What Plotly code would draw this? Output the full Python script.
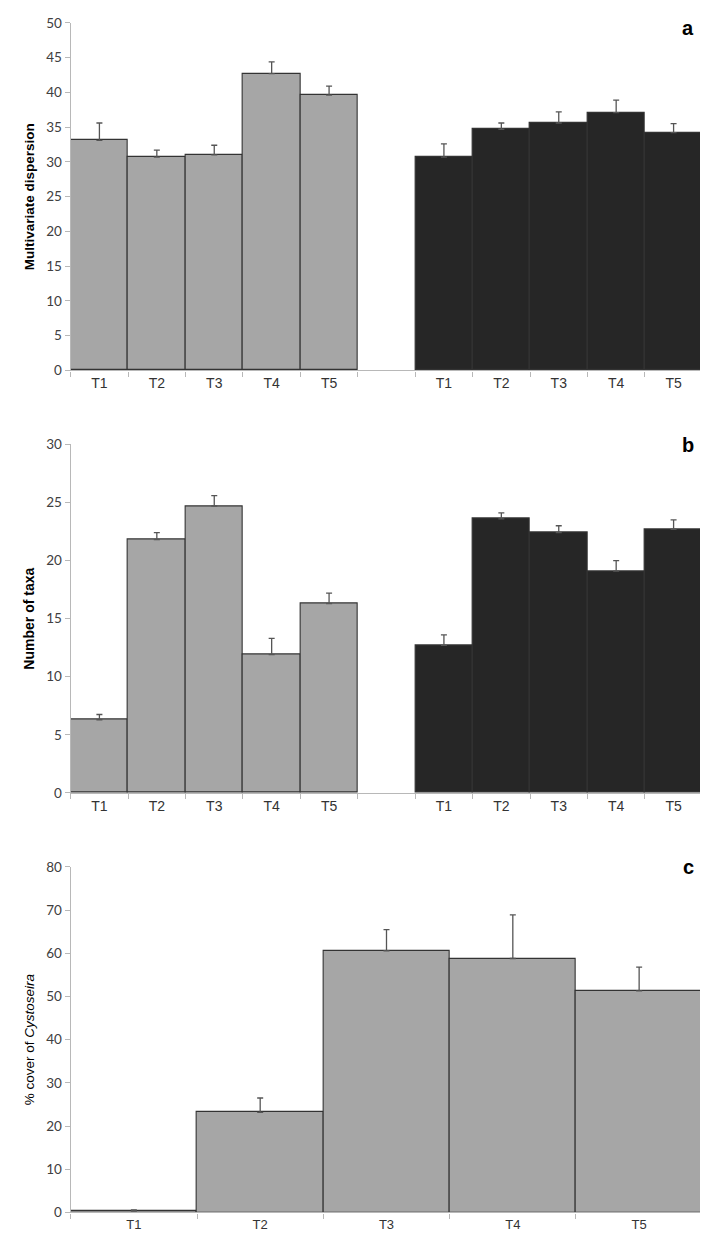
import plotly.graph_objects as go

# ---- data ----
cats = ["T1", "T2", "T3", "T4", "T5"]

a_gray = [33.1, 30.7, 31.0, 42.7, 39.6]
a_gray_se = [2.5, 1.0, 1.4, 1.7, 1.3]
a_black = [30.7, 34.7, 35.6, 37.1, 34.2]
a_black_se = [1.9, 0.9, 1.6, 1.8, 1.3]

b_gray = [6.3, 21.8, 24.7, 11.9, 16.3]
b_gray_se = [0.45, 0.6, 0.9, 1.4, 0.9]
b_black = [12.7, 23.6, 22.4, 19.1, 22.7]
b_black_se = [0.9, 0.5, 0.6, 0.9, 0.8]

c_vals = [0.3, 23.2, 60.6, 58.8, 51.3]
c_se = [0.3, 3.3, 4.9, 10.1, 5.5]

GRAY = "#a6a6a6"
BLACK = "#262626"
EDGE = "#333333"
ERRC = "#555555"
AXC = "#b8b8b8"

W, H = 708, 1249

gray_keys = cats
gap_key = "  "
black_keys = [c + " " for c in cats]
ab_order = gray_keys + [gap_key] + black_keys
ab_text = cats + [""] + cats

fig = go.Figure()


def err(se):
    return dict(type="data", symmetric=False, array=se, arrayminus=[0] * len(se),
                color=ERRC, thickness=1.3, width=3)


def bar(x, y, se, color, xa, ya):
    return go.Bar(x=x, y=y, error_y=err(se), marker=dict(color=color, line=dict(color=EDGE, width=1.1)),
                  width=1, xaxis=xa, yaxis=ya, showlegend=False)


fig.add_trace(bar(gray_keys, a_gray, a_gray_se, GRAY, "x", "y"))
fig.add_trace(bar(black_keys, a_black, a_black_se, BLACK, "x", "y"))
fig.add_trace(bar(gray_keys, b_gray, b_gray_se, GRAY, "x2", "y2"))
fig.add_trace(bar(black_keys, b_black, b_black_se, BLACK, "x2", "y2"))
fig.add_trace(bar(cats, c_vals, c_se, GRAY, "x3", "y3"))


def py(px):
    return (H - px) / H


x0, x1 = 62.7 / W, 694.3 / W

tickfont_y = dict(family="Lato, Open Sans, sans-serif", size=13.5, color="#404040")
AR = "Liberation Sans, Arial, sans-serif"


def xaxis(anchor, order, text, font):
    return dict(domain=[x0, x1], anchor=anchor, type="category", categoryorder="array",
                categoryarray=order, tickmode="array", tickvals=order, ticktext=text,
                tickson="boundaries", ticks="outside", ticklen=5, tickcolor=AXC,
                showline=True, linecolor=AXC, linewidth=1.2, showgrid=False, zeroline=False,
                range=[-0.5, len(order) - 0.5], tickfont=font, fixedrange=True)


def yaxis(anchor, dom, rng, dt, title, tsize, bold=True):
    return dict(domain=dom, anchor=anchor, range=rng, dtick=dt, tick0=0, ticks="outside", ticklen=5,
                tickcolor=AXC, showline=True, linecolor=AXC, linewidth=1.2, showgrid=False,
                zeroline=False, tickfont=tickfont_y,
                title=dict(text=title, standoff=8,
                           font=dict(family=AR, size=tsize,
                                     color="#000000", weight="bold" if bold else "normal")))


fig.update_layout(
    width=W, height=H,
    margin=dict(l=0, r=0, t=0, b=0),
    paper_bgcolor="white", plot_bgcolor="white",
    bargap=0,
    xaxis=xaxis("y", ab_order, ab_text, dict(family=AR, size=14, color="#333333")),
    yaxis=yaxis("x", [py(359), py(7)], [0, 50], 5, "Multivariate dispersion", 13.5),
    xaxis2=xaxis("y2", ab_order, ab_text, dict(family=AR, size=14, color="#333333")),
    yaxis2=yaxis("x2", [py(787), py(434)], [0, 30], 5, "Number of taxa", 14),
    xaxis3=xaxis("y3", cats, cats, dict(family=AR, size=13, color="#333333")),
    yaxis3=yaxis("x3", [py(1212), py(862)], [0, 80], 10, "% cover of <i>Cystoseira</i>", 13.5, bold=False),
)

for letter, ypx in [("a", 12), ("b", 435), ("c", 862)]:
    fig.add_annotation(text="<b>%s</b>" % letter, x=680 / W, y=py(ypx), xref="paper", yref="paper",
                       showarrow=False, xanchor="center", yanchor="middle",
                       font=dict(family=AR, size=20, color="#000000"))

fig.write_html("out.html")
